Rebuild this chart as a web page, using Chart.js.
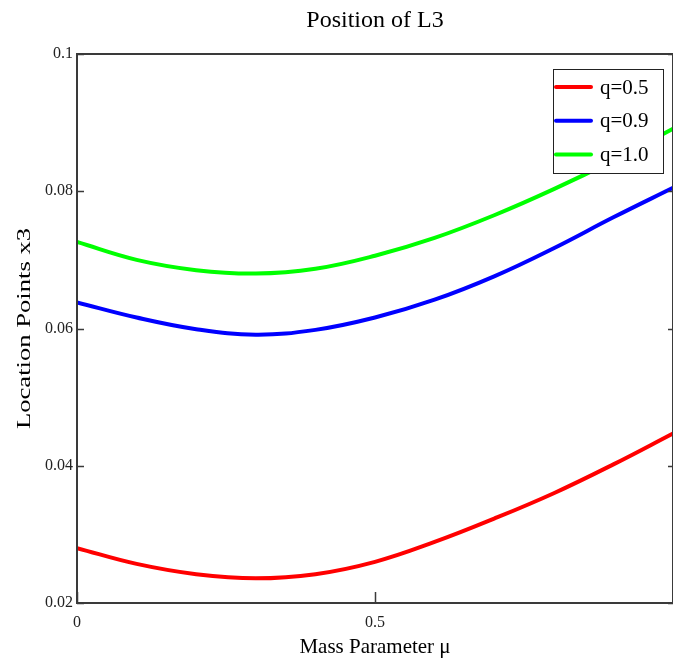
<!DOCTYPE html>
<html>
<head>
<meta charset="utf-8">
<title>Position of L3</title>
<script src="https://cdn.jsdelivr.net/npm/chart.js@4.4.1/dist/chart.umd.min.js"></script>
<style>
  html, body { margin: 0; padding: 0; background: #fff; }
  #wrap { width: 673px; height: 666px; }
</style>
</head>
<body>
<div id="wrap"><canvas id="l3Chart" width="673" height="666"></canvas></div>
<script>
// Mass parameter mu (x axis)
const mu = [0, 0.1, 0.2, 0.3, 0.4, 0.5, 0.6, 0.7, 0.8, 0.9, 1.0];

// Location of L3 for each q
const q05 = [0.0280, 0.0257, 0.0242, 0.0236, 0.0242, 0.0260, 0.0289, 0.0323, 0.0360, 0.0402, 0.0447];
const q09 = [0.0638, 0.0616, 0.0599, 0.0591, 0.0598, 0.0616, 0.0642, 0.0676, 0.0717, 0.0762, 0.0805];
const q10 = [0.0726, 0.0700, 0.0685, 0.0680, 0.0687, 0.0706, 0.0732, 0.0765, 0.0803, 0.0845, 0.0891];

const seriesLabels = ['q=0.5', 'q=0.9', 'q=1.0'];
const seriesColors = ['#ff0000', '#0000ff', '#00ff00'];

const yTicks = [0.02, 0.04, 0.06, 0.08, 0.1];
const xTicks = [0, 0.5];

const SERIF = '"Liberation Serif", "Times New Roman", serif';
const Y_TITLE = 'Location Points x3';

function toPoints(ys) {
  return mu.map((m, i) => ({ x: m, y: ys[i] }));
}

/**
 * Box around the plot area with inward tick marks
 */
const framePlugin = {
  id: 'frame',
  afterDatasetsDraw(chart) {
    const { ctx, chartArea: a, scales } = chart;
    ctx.save();
    ctx.strokeStyle = '#3a3a3a';
    ctx.lineWidth = 2;
    ctx.strokeRect(a.left, a.top, a.right - a.left, a.bottom - a.top);

    ctx.lineWidth = 1.5;
    ctx.beginPath();
    yTicks.forEach(v => {
      const py = Math.round(scales.y.getPixelForValue(v)) + 0.5;
      ctx.moveTo(a.left, py);
      ctx.lineTo(a.left + 7, py);
      ctx.moveTo(a.right - 5, py);
      ctx.lineTo(a.right, py);
    });
    xTicks.forEach(v => {
      const px = Math.round(scales.x.getPixelForValue(v)) + 0.5;
      ctx.moveTo(px, a.bottom);
      ctx.lineTo(px, a.bottom - 11);
    });
    ctx.stroke();
    ctx.restore();
  }
};

/**
 * Vertical axis title, stretched along its length like the original
 */
const yTitlePlugin = {
  id: 'yTitle',
  afterDraw(chart) {
    const { ctx, chartArea: a } = chart;
    ctx.save();
    ctx.translate(25, (a.top + a.bottom) / 2);
    ctx.rotate(-Math.PI / 2);
    ctx.scale(1.4, 1);
    ctx.font = '19px ' + SERIF;
    ctx.fillStyle = '#000';
    ctx.textAlign = 'center';
    ctx.textBaseline = 'middle';
    ctx.fillText(Y_TITLE, 0, 0);
    ctx.restore();
  }
};

/**
 * Boxed legend in the top right corner of the plot
 */
const boxLegendPlugin = {
  id: 'boxLegend',
  afterDraw(chart) {
    const { ctx } = chart;
    const x0 = 553, y0 = 69, w = 110, h = 104;
    ctx.save();
    ctx.fillStyle = '#fff';
    ctx.fillRect(x0, y0, w, h);
    ctx.strokeStyle = '#222';
    ctx.lineWidth = 1;
    ctx.strokeRect(x0 + 0.5, y0 + 0.5, w, h);

    ctx.font = '21px ' + SERIF;
    ctx.textBaseline = 'middle';
    chart.data.datasets.forEach((ds, i) => {
      const cy = 87 + i * 33.8;
      ctx.strokeStyle = ds.borderColor;
      ctx.lineWidth = 4;
      ctx.lineCap = 'round';
      ctx.beginPath();
      ctx.moveTo(556, cy);
      ctx.lineTo(591, cy);
      ctx.stroke();
      ctx.fillStyle = '#000';
      ctx.fillText(ds.label, 600, cy + 1);
    });
    ctx.restore();
  }
};

function initL3Chart() {
  const ctx = document.getElementById('l3Chart').getContext('2d');
  const sets = [q05, q09, q10];
  window.l3Chart = new Chart(ctx, {
    type: 'line',
    data: {
      datasets: sets.map((ys, i) => ({
        label: seriesLabels[i],
        data: toPoints(ys),
        borderColor: seriesColors[i],
        backgroundColor: seriesColors[i],
        borderWidth: 4,
        pointRadius: 0,
        tension: 0.4,
        fill: false
      }))
    },
    options: {
      responsive: false,
      animation: false,
      devicePixelRatio: 1,
      layout: { padding: 0 },
      plugins: {
        legend: { display: false },
        tooltip: { enabled: false },
        title: {
          display: true,
          fullSize: false,
          text: 'Position of L3',
          color: '#000',
          font: { family: SERIF, size: 24, weight: 'normal' },
          padding: { top: 6, bottom: 19.2 }
        }
      },
      scales: {
        x: {
          type: 'linear',
          min: 0,
          max: 1,
          afterBuildTicks: s => { s.ticks = xTicks.map(v => ({ value: v })); },
          afterFit: s => { s.height = 63; },
          grid: { display: false, drawTicks: false },
          border: { display: false },
          ticks: {
            color: '#222',
            padding: 10,
            maxRotation: 0,
            font: { family: SERIF, size: 16 },
            callback: v => String(v)
          },
          title: {
            display: true,
            text: 'Mass Parameter \u03bc',
            color: '#000',
            font: { family: SERIF, size: 21 },
            padding: { top: 0, bottom: 6 }
          }
        },
        y: {
          min: 0.02,
          max: 0.1,
          afterBuildTicks: s => { s.ticks = yTicks.map(v => ({ value: v })); },
          afterFit: s => { s.width = 77; },
          grid: { display: false, drawTicks: false },
          border: { display: false },
          ticks: {
            color: '#222',
            padding: 4,
            font: { family: SERIF, size: 16 },
            callback: v => String(+v.toFixed(2))
          },
          title: { display: false }
        }
      }
    },
    plugins: [framePlugin, yTitlePlugin, boxLegendPlugin]
  });
}

initL3Chart();
</script>
</body>
</html>
